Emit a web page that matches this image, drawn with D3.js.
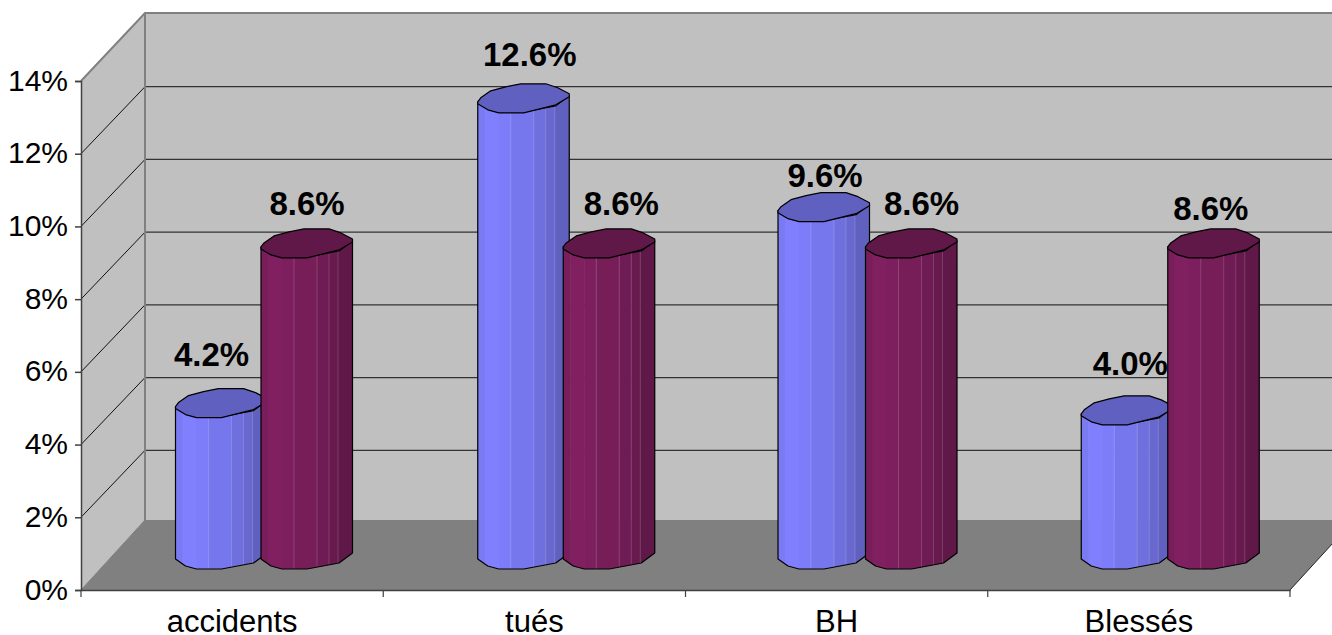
<!DOCTYPE html>
<html>
<head>
<meta charset="utf-8">
<script src="https://cdn.jsdelivr.net/npm/d3@7"></script>
<style>
  html, body { margin: 0; padding: 0; background: #fff; }
  svg { display: block; }
  text { font-family: "Liberation Sans", Arial, sans-serif; fill: #000; }
</style>
</head>
<body>
<div id="chart"></div>
<script>
// Data
var categories = ['accidents', 'tués', 'BH', 'Blessés']
var serie_1    = [4.2, 12.6, 9.6, 4.0]
var serie_2    = [8.6, 8.6, 8.6, 8.6]
var y_ticks    = [0, 2, 4, 6, 8, 10, 12, 14]

// Size
var width  = 1332
var height = 635

// Plot box: front face and the depth offset to the back wall
var plot_left = 81, plot_right = 1290, plot_bottom = 590, plot_top = 81
var depth_x = 64, depth_y = -70
var back_x = plot_left + depth_x, floor_y = plot_bottom + depth_y

var svg = d3.select('#chart').append('svg')
    .attr('width', width)
    .attr('height', height)

// Scales
var x = d3.scaleBand().domain(categories).range([plot_left, plot_right])
var y_front = d3.scaleLinear().domain([0, 14]).range([plot_bottom, plot_top])
var y_back  = d3.scaleLinear().domain([0, 14]).range([523, 14])
var y_bar   = d3.scaleLinear().domain([0, 14]).range([559, 51])

// Walls & floor
svg.append('polygon')
    .attr('points', [[plot_left, plot_bottom], [back_x, floor_y], [back_x, 13], [plot_left, plot_top]].join(' '))
    .attr('fill', '#c0c0c0')
svg.append('rect')
    .attr('x', back_x).attr('y', 13)
    .attr('width', width - back_x).attr('height', floor_y - 13)
    .attr('fill', '#c0c0c0')
svg.append('polygon')
    .attr('points', [[plot_left, plot_bottom], [back_x, floor_y], [plot_right + depth_x, floor_y], [plot_right, plot_bottom]].join(' '))
    .attr('fill', '#808080')

// Gridlines
var grid_ticks = y_ticks.filter(d => d > 0 && d < 14)
svg.selectAll('.grid_side').data(grid_ticks).enter().append('line')
    .attr('class', 'grid_side')
    .attr('x1', plot_left).attr('x2', back_x)
    .attr('y1', d => y_front(d)).attr('y2', d => y_back(d))
    .attr('stroke', '#111').attr('stroke-width', 1)
svg.selectAll('.grid_back').data(grid_ticks).enter().append('line')
    .attr('class', 'grid_back')
    .attr('x1', back_x).attr('x2', width)
    .attr('y1', d => y_back(d)).attr('y2', d => y_back(d))
    .attr('stroke', '#333').attr('stroke-width', 1.3)

// Wall border
svg.append('path')
    .attr('d', `M${plot_left},${plot_top}L${back_x},13H${width}M${back_x},13V${floor_y}`)
    .attr('fill', 'none').attr('stroke', '#808080').attr('stroke-width', 2)
svg.append('line')
    .attr('x1', plot_left).attr('y1', plot_bottom)
    .attr('x2', back_x).attr('y2', floor_y)
    .attr('stroke', '#808080').attr('stroke-width', 1)
svg.append('line')
    .attr('x1', plot_right).attr('y1', plot_bottom)
    .attr('x2', plot_right + depth_x).attr('y2', floor_y)
    .attr('stroke', '#222').attr('stroke-width', 1)

// Cylinder drawing: profile in px relative to left edge / bar top
var top_outline = [[0, 0], [3, -4], [13, -11], [28, -15], [43, -18], [68, -18], [80, -14], [91.5, -8], [91.5, -5], [78, 3], [46, 11], [21, 11], [10, 8], [0, 2]]
var front_arc   = [[0, 0], [10, 7], [21, 10], [46, 10], [78, 4], [91.5, -6]]
var facets = [
  {x0: 0,  x1: 7,  k: 0.95}, {x0: 7,  x1: 21, k: 1},    {x0: 21, x1: 33, k: 0.98},
  {x0: 33, x1: 56, k: 0.93}, {x0: 56, x1: 68, k: 0.87}, {x0: 68, x1: 77, k: 0.81},
  {x0: 77, x1: 92, k: 0.75}
]

var series = [
  {values: serie_1, offset: 94.5, color: '#8080ff', cap: '#6060c0'},
  {values: serie_2, offset: 180,  color: '#802060', cap: '#601848'}
]

// Small per bar corrections, the original has uneven spacing
var blue_nudge = [0, 0, -2, -1]

// Hand placed data labels [dx from bar left, dy from bar top]
var label_nudge = [
  [[36, -52], [52, -47], [45, -35], [48, -50]],
  [[46, -43], [58, -43], [56, -43], [43, -38]]
]

function pts(arr, x0, y0) { return arr.map(p => [x0 + p[0], y0 + p[1]]) }
function shade(c, k) {
  var col = d3.rgb(c)
  return d3.rgb(col.r * k, col.g * k, col.b * k).formatHex()
}
function barX(si, i) {
  return x(categories[i]) + series[si].offset + (si == 0 ? blue_nudge[i] : 0)
}

var defs = svg.append('defs')

series.forEach(function(s, si) {
  var g = svg.append('g').attr('class', 'serie_' + si)
  s.values.forEach(function(v, i) {
    var bx = barX(si, i)
    var ty = y_bar(v), by = y_bar(0)
    var body = pts(front_arc, bx, ty).reverse().concat(pts(front_arc, bx, by))
    var id = 'clip_' + si + '_' + i
    defs.append('clipPath').attr('id', id).append('polygon').attr('points', body.join(' '))

    var bar = g.append('g')
    bar.append('g').attr('clip-path', `url(#${id})`)
      .selectAll('rect').data(facets).enter().append('rect')
        .attr('x', d => bx + d.x0)
        .attr('width', d => d.x1 - d.x0 + 0.5)
        .attr('y', ty - 15)
        .attr('height', by - ty + 40)
        .attr('fill', d => shade(s.color, d.k))
    // light seams between facets
    bar.append('g').attr('clip-path', `url(#${id})`)
      .selectAll('line').data(facets.slice(3)).enter().append('line')
        .attr('x1', d => bx + d.x0).attr('x2', d => bx + d.x0)
        .attr('y1', ty - 15).attr('y2', by + 25)
        .attr('stroke', '#fff').attr('stroke-opacity', 0.16).attr('stroke-width', 1)
    bar.append('polygon')
      .attr('points', body.join(' '))
      .attr('fill', 'none').attr('stroke', '#000').attr('stroke-width', 1.2).attr('stroke-linejoin', 'round')
    bar.append('polygon')
      .attr('points', pts(top_outline, bx, ty).join(' '))
      .attr('fill', s.cap).attr('stroke', '#000').attr('stroke-width', 1.2).attr('stroke-linejoin', 'round')
  })
})

// Data labels on top of every bar
series.forEach(function(s, si) {
  svg.selectAll('.lab_' + si).data(s.values).enter().append('text')
    .attr('class', 'lab_' + si)
    .attr('x', (d, i) => x(categories[i]) + s.offset + label_nudge[si][i][0])
    .attr('y', (d, i) => y_bar(d) + label_nudge[si][i][1])
    .attr('text-anchor', 'middle')
    .attr('dominant-baseline', 'central')
    .style('font-size', '33px')
    .style('font-weight', 'bold')
    .text(d => d.toFixed(1) + '%')
})

// Axes
var y_axis = svg.append('g')
    .attr('transform', `translate(${plot_left},0)`)
    .call(d3.axisLeft(y_front).tickValues(y_ticks).tickFormat(d => d + '%').tickSize(6).tickPadding(7))
var x_axis = svg.append('g')
    .attr('transform', `translate(0,${plot_bottom})`)
    .call(d3.axisBottom(x).tickSize(0).tickPadding(20))

y_axis.selectAll('text').style('font-size', '30px').attr('dy', '0.3em')
x_axis.selectAll('text').style('font-size', '31px')
y_axis.selectAll('line, path').attr('stroke', '#404040').attr('stroke-width', 1.5)
x_axis.selectAll('path').attr('stroke', '#404040').attr('stroke-width', 1.5)
svg.selectAll('.x_tick').data(d3.range(categories.length + 1)).enter().append('line')
    .attr('class', 'x_tick')
    .attr('x1', i => plot_left + i * x.step()).attr('x2', i => plot_left + i * x.step())
    .attr('y1', plot_bottom).attr('y2', plot_bottom + 7)
    .attr('stroke', '#404040').attr('stroke-width', 1.2)
</script>
</body>
</html>
